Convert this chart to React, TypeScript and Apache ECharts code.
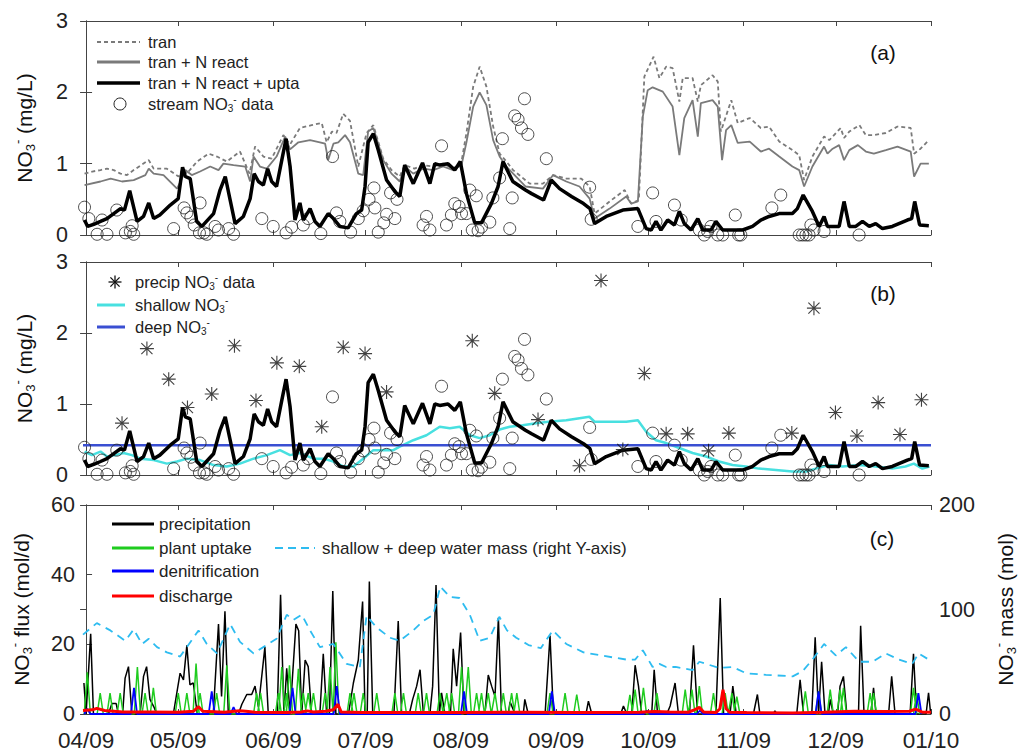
import React, { useEffect, useRef } from "react";
import * as echarts from "echarts";

const FONT = "Liberation Sans, Arial, Helvetica, sans-serif";

// x axis: days since 2009-04-01
const MONTH_DAYS = [0, 30, 61, 91, 122, 153, 183, 214, 244, 275];
const MONTH_LABELS = ["04/09", "05/09", "06/09", "07/09", "08/09", "09/09", "10/09", "11/09", "12/09", "01/10"];

// panel (a) model lines [day, mg/L]
const TRAN = [[-0.5,0.86],[2,0.89],[4.7,0.91],[6.8,0.93],[9,0.91],[11.2,0.86],[13.3,0.84],[15.5,0.91],[20.4,1.05],[22,0.93],[26.3,0.93],[30.1,0.82],[31.5,0.93],[32.8,0.86],[36.1,1.03],[39.9,1.14],[42.6,1.1],[45.8,1.03],[50.1,1.17],[53.2,0.86],[55,1.24],[57.7,1.1],[60.4,1.07],[64.2,1.4],[66.4,1.27],[69.6,1.5],[73.4,1.54],[76.7,1.57],[78.3,1.3],[80,1.45],[81.5,1.43],[83.7,1.7],[85.9,1.6],[88.6,0.96],[91.3,1.43],[93.5,1.54],[96.7,1.07],[99.4,0.91],[102.1,0.82],[103.7,0.98],[106.9,0.93],[109.7,0.98],[113,0.96],[116.2,1.0],[119.5,0.93],[122.2,1.03],[123.8,1.43],[126,2.08],[128.1,2.36],[130.3,2.08],[132.5,1.52],[134.6,1.14],[136.8,1.03],[139,0.91],[144.4,0.72],[148.7,0.72],[152,0.84],[156.3,0.79],[161.2,0.79],[163.9,0.68],[165.5,0.3],[170.4,0.47],[175.3,0.63],[177.4,0.44],[179.9,0.49],[181.7,2.22],[184.7,2.5],[186.6,2.2],[188.8,2.36],[190.9,2.34],[193.1,1.87],[194.2,2.2],[197.4,2.2],[199.1,1.87],[200.1,2.1],[203.9,2.24],[205.6,2.15],[206.6,1.45],[210,1.89],[212.1,1.57],[216,1.64],[219.6,1.5],[222.3,1.52],[225.6,1.31],[229.9,1.19],[232.1,1.12],[233.7,0.77],[236.4,1.1],[240.2,1.38],[241.9,1.33],[245.6,1.5],[246.7,1.36],[248.4,1.45],[251.7,1.54],[253.8,1.4],[256.4,1.4],[260.3,1.43],[264.1,1.52],[268.4,1.5],[269.5,1.14],[271.6,1.21],[274.3,1.33]];

const TRAN_REACT = [[-0.5,0.70],[4.7,0.75],[8,0.79],[11.7,0.75],[15.5,0.77],[19.3,0.84],[20.4,0.93],[22,0.86],[25.2,0.84],[29.6,0.65],[31.2,0.79],[32.3,0.91],[34.4,0.84],[37.1,0.89],[40.4,0.96],[43.1,0.91],[44.7,1.0],[48,0.98],[51.8,0.96],[53.4,0.75],[54.5,1.1],[56.6,0.96],[58.8,0.93],[62,1.1],[64.8,1.38],[66.4,1.2],[69.1,1.3],[72.9,1.33],[76.1,1.3],[77.8,1.28],[78.8,1.05],[80.5,1.28],[82.1,1.3],[84.3,1.4],[85.9,1.3],[88.6,0.86],[90.2,0.84],[91.8,1.45],[93.5,1.5],[96.7,1.05],[99.4,0.86],[102.1,0.75],[103.7,0.96],[106.5,0.86],[109.7,0.93],[113,0.91],[116.2,0.96],[119.5,0.91],[122.2,0.98],[123.8,1.3],[126,1.8],[128.1,2.0],[130.3,1.82],[132.5,1.33],[134.6,1.1],[136.8,0.96],[139,0.86],[143,0.68],[148.7,0.65],[152,0.84],[156.3,0.75],[160.6,0.68],[163.9,0.51],[165.5,0.23],[170.4,0.37],[175.8,0.54],[177.4,0.44],[179.6,0.47],[181.2,1.66],[182.8,2.03],[184.4,2.07],[187.7,2.01],[190.9,1.8],[193.1,1.12],[194.7,1.64],[197.4,1.89],[199.1,1.38],[200.1,1.85],[203.9,1.89],[205.6,1.8],[207,1.05],[208.3,1.47],[210,1.54],[212.1,1.29],[216,1.31],[219.6,1.17],[222.3,1.21],[225.6,1.1],[229.9,0.96],[232.1,0.91],[233.7,0.68],[236.4,0.96],[240.2,1.24],[241.3,1.14],[243,1.21],[245.1,1.26],[246.7,1.05],[248.4,1.19],[251.2,1.26],[253.8,1.17],[256.4,1.14],[260.3,1.19],[264.1,1.24],[268.4,1.17],[269.5,0.82],[271.6,1.0],[274.3,1.0]];

const TRAN_REACT_UPTA = [[-0.5,0.21],[0.5,0.12],[2.5,0.15],[4.7,0.19],[6.8,0.23],[9,0.3],[11.2,0.37],[12.5,0.35],[14.2,0.62],[16.6,0.19],[18.7,0.26],[20.4,0.45],[22,0.23],[24,0.28],[27.4,0.42],[30,0.51],[31.4,0.95],[32.3,0.82],[33.9,0.79],[36,0.19],[37.7,0.12],[41.5,0.3],[43.6,0.63],[45.3,0.82],[46.9,0.49],[48.5,0.16],[51.2,0.26],[53.4,0.51],[54.7,0.86],[56.1,0.75],[57.7,0.7],[59.1,0.93],[60.4,0.75],[62,0.68],[63.7,1.05],[65.1,1.35],[66.4,0.96],[68,0.21],[69.6,0.45],[70.7,0.21],[72.9,0.37],[74.5,0.19],[76.1,0.12],[78.8,0.3],[80.5,0.23],[82.6,0.12],[85.3,0.1],[88,0.3],[89.7,0.35],[90.8,0.68],[91.8,1.3],[93.5,1.42],[95.1,1.19],[97.8,0.77],[100.5,0.61],[102.1,0.54],[103.7,0.98],[106.5,0.72],[109.5,1.01],[111.9,0.72],[113.5,1.0],[115.1,0.98],[117.8,1.0],[120,0.91],[121.8,1.03],[123.8,0.58],[126.5,0.17],[128.7,0.17],[131.9,0.44],[134.1,0.68],[135.7,1.03],[138.9,0.75],[143,0.63],[145,0.58],[148.9,0.49],[151.4,0.77],[154.1,0.65],[158,0.54],[161.9,0.44],[164,0.37],[165.5,0.16],[169.3,0.26],[174.7,0.35],[179.6,0.37],[182.3,0.09],[183.9,0.07],[185.5,0.19],[187.1,0.07],[189.3,0.21],[191.5,0.14],[193.1,0.33],[194.7,0.16],[196.9,0.07],[199.1,0.23],[200.7,0.07],[203.4,0.07],[205,0.19],[207.2,0.07],[210.4,0.07],[213.7,0.07],[216.9,0.12],[219.6,0.21],[222.3,0.26],[225.6,0.3],[229.9,0.3],[231.5,0.37],[233.4,0.56],[236.4,0.33],[238.6,0.12],[240.2,0.26],[241.3,0.12],[245.1,0.12],[246.7,0.47],[248.4,0.12],[250.5,0.12],[252.7,0.19],[254.9,0.12],[257,0.16],[259.2,0.09],[262.4,0.12],[267.3,0.21],[268.7,0.23],[269.7,0.47],[271.3,0.14],[274.3,0.13]];

// observed stream NO3- [day, mg/L]
const STREAM_OBS = [[-0.5,0.39],[0.9,0.23],[3.6,0.01],[5.2,0.21],[6.8,0.01],[10,0.35],[12.8,0.03],[14.4,0.05],[15,0.13],[15.5,0.01],[28.5,0.09],[31.9,0.38],[32.8,0.31],[34.1,0.25],[35.2,0.14],[36.9,0.03],[37.1,0.45],[38.4,0.03],[39.3,0.01],[42,0.12],[43.1,0.07],[46.4,0.09],[48,0.01],[57.2,0.23],[60.9,0.12],[65.1,0.03],[66.9,0.11],[70.7,0.14],[72.3,0.23],[76.4,0.02],[80.2,1.10],[81.5,0.31],[82.6,0.19],[86.1,0.04],[88.6,0.23],[90.2,0.34],[92.1,0.50],[93.7,0.66],[94,0.38],[95.1,0.04],[96.9,0.17],[97.8,0.29],[99.1,0.59],[100.5,0.23],[101.2,0.50],[109.7,0.14],[110.8,0.26],[111.9,0.07],[115.7,1.25],[117.3,0.14],[118.9,0.28],[120,0.44],[121.4,0.40],[122.2,0.30],[123.8,0.30],[124.9,0.63],[125.7,0.07],[127,0.55],[127.6,0.06],[128.7,0.11],[131.4,0.18],[132.4,0.52],[134.6,0.80],[135.5,1.35],[137.9,0.09],[138.7,0.52],[139.5,1.67],[140.6,1.62],[141.7,1.50],[142.7,1.91],[143.8,1.41],[149.8,1.07],[163.9,0.67],[164.4,0.22],[179.6,0.12],[184.4,0.59],[185.5,0.19],[191.5,0.42],[193.7,0.21],[199.6,0.07],[201.2,0.0],[202.3,0.05],[203.4,0.12],[205.6,0.0],[207.2,0.0],[211.3,0.28],[212.4,0.0],[213.1,0.0],[223.2,0.38],[226.1,0.56],[232.1,0.0],[233.2,0.0],[234.3,0.0],[235.3,0.0],[235.9,0.14],[236.9,0.07],[240.2,0.05],[251.6,0.0]];

// panel (b)
const PRECIP_OBS = [[11.7,0.73],[19.8,1.78],[26.9,1.35],[33,0.95],[40.9,1.14],[48.3,1.82],[55.3,1.05],[62.1,1.58],[69.4,1.53],[76.7,0.68],[83.7,1.80],[90.8,1.71],[97.8,1.17],[125.7,1.89],[133,1.15],[147.1,0.78],[160.6,0.13],[167.6,2.74],[174.7,0.36],[181.7,1.43],[188.8,0.58],[195.8,0.58],[202.6,0.34],[209.2,0.59],[229.7,0.59],[236.9,2.35],[243.9,0.88],[250.9,0.55],[257.8,1.02],[264.9,0.57],[271.9,1.06]];

const SHALLOW = [[-0.5,0.33],[1.9,0.28],[4.7,0.33],[6.8,0.26],[9.5,0.28],[12.2,0.31],[14.9,0.28],[17.7,0.23],[22,0.21],[26.3,0.16],[29.6,0.19],[32.8,0.23],[37.1,0.21],[41.5,0.14],[45.8,0.12],[50.1,0.16],[54.5,0.23],[58.8,0.28],[63.1,0.35],[66.4,0.28],[69.6,0.31],[74,0.23],[77.2,0.23],[80.5,0.19],[83.7,0.12],[87,0.12],[90.2,0.23],[93.5,0.35],[96.7,0.35],[100,0.35],[102.1,0.40],[106.5,0.49],[110.8,0.56],[115.1,0.68],[118.4,0.66],[121.6,0.68],[124.9,0.56],[128.1,0.52],[131.4,0.56],[134.6,0.64],[137.9,0.68],[142.1,0.70],[146.5,0.73],[150.5,0.75],[156.3,0.77],[160.6,0.80],[163.8,0.82],[165.5,0.75],[170.4,0.75],[175.8,0.75],[179.6,0.77],[182.3,0.61],[185.5,0.49],[188.8,0.45],[193.1,0.38],[197.4,0.31],[201.8,0.26],[206,0.19],[210.4,0.14],[214.7,0.12],[219,0.09],[224.5,0.07],[229.9,0.05],[234.3,0.05],[237.5,0.09],[241.8,0.14],[246.2,0.12],[251.6,0.14],[257,0.12],[262.4,0.09],[266.7,0.12],[269.4,0.16],[272.2,0.09],[274.5,0.12]];

const DEEP_LEVEL = [0.42];

// panel (c) fluxes [day, mol/d]
const PRECIP_FLUX = [[-0.7,8.9],[0,0],[1.5,23],[2.4,0],[7.3,0],[8.4,3],[9.8,3],[10.5,0],[11.9,0],[12.7,10.3],[13.8,13.6],[14.9,0],[17.6,0],[18.7,10.8],[19.7,13.6],[20.8,4.2],[22.1,2],[23,0],[28.4,0],[30.6,11.7],[31.7,9.8],[32.8,19.7],[33.8,8.4],[34.9,8.9],[36.2,0],[41.4,0],[43.1,25.8],[44.1,5],[45.2,29.5],[46.3,0],[49.6,0],[50.7,2.8],[52.3,5.6],[53.9,5.6],[55,8],[56.1,2],[58.2,19.2],[59.3,0],[62.2,0],[63.3,34.2],[64.4,0],[65.3,13.1],[66.4,0],[68.3,25.8],[69.2,23.9],[70.2,0],[71.3,15.5],[72.3,13.6],[73.4,0],[76.1,0],[77.2,17.3],[78.3,0],[79.2,0],[80.3,35.3],[81.3,0],[85.4,0],[87,8.9],[88.6,15.5],[90,32.3],[90.8,0],[91.5,0],[92.2,38],[93.3,0],[100.2,0],[101.6,26.7],[102.7,0],[105.2,0],[106.3,4.2],[107.6,8],[108.7,12.7],[109.8,0],[111.9,0],[112.8,8],[113.9,37],[115,0],[115.7,6.1],[116.8,0],[118.6,0],[119.5,18.7],[120.6,8],[121.9,23.4],[123,0],[129.8,0],[130.9,11.2],[132,8],[133.1,5],[134.2,27.6],[135.2,0],[137.4,0],[138,3.5],[139.6,0],[142.3,0],[142.8,4.2],[143.9,0],[149.4,0],[151,22.5],[152.1,0],[162.7,0],[163.5,3.7],[164.6,0],[174,0],[174.9,2.3],[176,0],[177.6,0],[178.7,14],[179.8,8],[180.8,0],[184.1,0],[184.9,12.7],[186,0],[189,0],[190.1,2.3],[191.7,8.9],[192.8,0],[196.4,0],[197.7,19.7],[199,0],[205,0],[206.4,33.3],[207.5,0],[209.6,0],[210.5,8],[211.6,0],[217.2,0],[218.5,5.6],[219.3,0],[223.7,0],[224.2,0.9],[224.8,0],[231.3,0],[232.4,9.8],[233.5,0],[236.2,0],[237.3,22],[238.4,0],[239.4,15],[240.5,0],[241.6,0],[242.2,4.2],[243.2,0],[244.6,0],[245.4,8],[246.5,10.8],[247.6,0],[251.4,0],[252.1,25.3],[253.2,0],[255.4,0],[256.3,7.5],[257.1,0],[261.2,0],[262.2,10.8],[263.3,0],[268.2,0],[269.3,17.3],[270.3,0],[273.4,0],[274.2,6.1],[274.9,0]];

const UPTAKE_PEAKS = [[0.4,12],[4.6,6],[7.8,6],[11.1,6],[16.7,13.5],[19.2,6],[21.9,7.5],[30,6],[32.8,6],[35.8,14.5],[37.1,6],[42.5,6],[45.8,14],[55.5,6],[56.8,6],[62.6,6],[63.7,13.5],[65.3,6],[66.2,14],[69.1,13],[70.7,6],[72.3,6],[74,6],[77.8,6],[79.4,13.5],[81.3,20.6],[85.9,6],[87.2,6],[90.2,6],[94.6,6],[100.5,6],[103.3,6],[108.1,6],[110.8,6],[115.2,6],[117.4,6],[119,6],[122.2,13.5],[124.4,13.5],[127.1,6],[128.7,6],[130.9,6],[133.1,6],[135.8,6],[138.5,6],[140.2,6],[151,6],[155.9,6],[159.7,5.6],[177,5.5],[178.7,7],[181.4,7.5],[185.8,6],[195,7],[197.2,7],[199.6,8],[204.2,6],[208,6],[210.2,6],[211.8,5],[234.1,6.5],[238.4,6.5],[242.2,7],[245.4,7],[246.5,7.5],[255.2,6],[256.3,6],[269.3,7.5],[270.3,6]];

const DENIT_PEAKS = [[0.4,1.5],[15.6,7.5],[40.9,6.5],[48,2],[67.2,7.5],[81.6,8],[123,6.5],[151.6,6.5],[182.5,1],[199.8,1],[238.4,6.5],[270.9,6]];

const DISCHARGE = [[-1,1],[2,1.2],[3.5,1.6],[6,1],[12,0.6],[20,0.6],[30,0.5],[35,0.8],[36.6,2.1],[38,0.8],[45,0.5],[50,0.9],[52,0.8],[55,0.5],[65,0.4],[70,0.6],[72,0.9],[74,0.6],[78,0.8],[80.5,1.2],[82,2.8],[83,0.6],[90,0.4],[100,0.4],[120,0.4],[140,0.5],[160,0.4],[180,0.5],[185,0.7],[190,0.6],[196,0.5],[198,1.2],[199.6,1.9],[201,0.6],[205,0.4],[206.3,1.5],[207.3,7],[208.3,1.5],[209.5,0.5],[215,0.4],[230,0.3],[240,0.5],[250,0.8],[260,0.7],[268,0.8],[270,1.4],[272,0.6],[275,0.5]];

// right axis: shallow + deep water NO3- mass [day, mol]
const WATER_MASS = [[-1,76],[3.5,87],[7.9,80],[12.8,70],[15.5,81],[18.2,67],[20.4,72],[23.1,64],[26.3,59],[30.6,55],[32.8,64],[36.6,80],[39.3,67],[42.6,58],[46.9,86],[50.1,69],[54.5,58],[57.7,64],[62,72],[65.3,95],[67.5,90],[70.2,95],[72.9,80],[76.1,64],[80.5,67],[84.8,48],[89.1,45],[91.3,94],[94.5,83],[98.9,73],[102.1,70],[106.5,80],[109.7,89],[113,95],[115.3,122],[118.4,112],[121.6,111],[124.9,95],[128.1,70],[131.4,73],[134.5,93],[137,80],[140,73],[144,66],[148,63],[151.9,80],[156.3,67],[161.9,59],[167.6,56],[176,52],[178.7,52],[181.2,61],[184.4,45],[186.6,48],[188.8,45],[191.9,45],[197.4,42],[199.6,50],[206.1,44],[210.4,45],[214.8,39],[221.3,37.5],[230,36],[233.2,41],[236.4,52],[240.2,67],[244,56],[247.3,64],[251.6,50],[256,50],[260.3,58],[264.6,52],[268.9,48],[271,58],[274.3,52]];

const spikeLine = (peaks: number[][]) =>
  peaks.flatMap(([d, v]) => [[d - 1, 0], [d, v], [d + 1, 0]]);

const ASTERISK =
  "path://M9.2 0H10.8V20H9.2Z M0 9.2H20V10.8H0Z M1.5 2.6L2.6 1.5L18.5 17.4L17.4 18.5Z M17.4 1.5L18.5 2.6L2.6 18.5L1.5 17.4Z";

const AX = "#444";
const richSS = {
  sub: { fontSize: 13, lineHeight: 12, verticalAlign: "bottom", fontFamily: FONT, color: "#111" },
  sup: { fontSize: 13, lineHeight: 12, verticalAlign: "top", fontFamily: FONT, color: "#111" },
};
const richLeg = {
  sub: { fontSize: 10, lineHeight: 9, verticalAlign: "bottom", fontFamily: FONT, color: "#222" },
  sup: { fontSize: 10, lineHeight: 9, verticalAlign: "top", fontFamily: FONT, color: "#222" },
};

const GRIDS = [
  { left: 83, top: 21, width: 848, height: 214 },
  { left: 83, top: 262, width: 848, height: 213 },
  { left: 83, top: 505, width: 848, height: 213 },
];

function xAxes() {
  const out: any[] = [];
  for (let g = 0; g < 3; g++) {
    for (const pos of ["bottom", "top"]) {
      out.push({
        type: "value",
        gridIndex: g,
        position: pos,
        min: -1,
        max: 275,
        axisLine: { show: true, onZero: false, lineStyle: { color: AX, width: 1 } },
        axisTick: { show: true, inside: true, length: 5, customValues: MONTH_DAYS, lineStyle: { color: AX } },
        axisLabel: {
          show: g === 2 && pos === "bottom",
          customValues: MONTH_DAYS,
          formatter: (v: number) => MONTH_LABELS[MONTH_DAYS.indexOf(v)] ?? "",
          fontFamily: FONT,
          fontSize: 22.5,
          color: "#222",
          margin: 15,
        },
        splitLine: { show: false },
      });
    }
  }
  return out;
}

function yAxis(grid: number, pos: string, max: number, interval: number, labels: boolean, margin: number, name?: string, nameGap?: number) {
  return {
    type: "value",
    gridIndex: grid,
    position: pos,
    min: 0,
    max,
    interval,
    name: name ?? "",
    nameLocation: "middle",
    nameRotate: 90,
    nameGap: nameGap ?? 40,
    nameTextStyle: { fontFamily: FONT, fontSize: 21, lineHeight: 26, color: "#111", rich: richSS },
    axisLine: { show: true, lineStyle: { color: AX, width: 1 } },
    axisTick: { show: true, inside: true, length: 6, lineStyle: { color: AX } },
    axisLabel: { show: labels, fontFamily: FONT, fontSize: 21.5, color: "#222", margin },
    splitLine: { show: false },
  };
}

function legendLine(x1: number, x2: number, y: number, color: string, width: number, dash?: number[]) {
  return {
    type: "line",
    shape: { x1, y1: y, x2, y2: y },
    style: { stroke: color, lineWidth: width, lineDash: dash },
    z: 100,
  };
}
function legendText(x: number, y: number, text: string, size: number) {
  return {
    type: "text",
    x,
    y,
    style: { text, fontFamily: FONT, fontSize: size, lineHeight: 19, fill: "#222", verticalAlign: "middle", rich: richLeg },
    z: 100,
  };
}
function panelTag(x: number, y: number, text: string) {
  return {
    type: "text",
    x,
    y,
    style: { text, fontFamily: FONT, fontSize: 21, fill: "#111", align: "center", verticalAlign: "middle" },
    z: 100,
  };
}
function asteriskIcon(cx: number, cy: number, r: number) {
  const parts: any[] = [];
  for (let k = 0; k < 4; k++) {
    const a = (k * Math.PI) / 4;
    parts.push({
      type: "line",
      shape: { x1: cx - r * Math.cos(a), y1: cy - r * Math.sin(a), x2: cx + r * Math.cos(a), y2: cy + r * Math.sin(a) },
      style: { stroke: "#111", lineWidth: 1.3 },
      z: 100,
    });
  }
  return parts;
}

const GRAY = "#7a7a7a";
const CYAN = "#48e0e0";
const DEEPBLUE = "#3a4fd2";

function buildOption() {
  const line = (name: string, data: any, xi: number, yi: number, color: string, width: number, extra: any = {}) => ({
    name,
    type: "line",
    xAxisIndex: xi,
    yAxisIndex: yi,
    data,
    showSymbol: false,
    symbol: "none",
    lineStyle: { color, width, ...(extra.lineStyle || {}) },
    z: extra.z ?? 2,
  });
  const circles = (xi: number, yi: number) => ({
    name: "stream NO3- data",
    type: "scatter",
    xAxisIndex: xi,
    yAxisIndex: yi,
    data: STREAM_OBS,
    symbol: "circle",
    symbolSize: 12,
    itemStyle: { color: "rgba(0,0,0,0)", borderColor: "#222", borderWidth: 1 },
    z: 3,
  });

  return {
    animation: false,
    backgroundColor: "#fff",
    grid: GRIDS,
    xAxis: xAxes(),
    yAxis: [
      yAxis(0, "left", 3, 1, true, 15, "NO{sub|3}{sup|-} (mg/L)", 46),
      yAxis(0, "right", 3, 1, false, 8),
      yAxis(1, "left", 3, 1, true, 15, "NO{sub|3}{sup|-} (mg/L)", 46),
      yAxis(1, "right", 3, 1, false, 8),
      yAxis(2, "left", 60, 20, true, 8, "NO{sub|3}{sup|-} flux (mol/d)", 49),
      yAxis(2, "right", 200, 100, true, 8, "NO{sub|3}{sup|-} mass (mol)", 61),
    ],
    series: [
      // (a)
      line("tran", TRAN, 0, 0, GRAY, 1.8, { lineStyle: { type: [4, 3] } }),
      line("tran + N react", TRAN_REACT, 0, 0, GRAY, 1.8),
      line("tran + N react + upta", TRAN_REACT_UPTA, 0, 0, "#000", 3.5, { z: 4 }),
      circles(0, 0),
      // (b)
      line("shallow NO3-", SHALLOW, 2, 2, CYAN, 2.5),
      line("deep NO3-", [[-1, DEEP_LEVEL[0]], [275, DEEP_LEVEL[0]]], 2, 2, DEEPBLUE, 2.5),
      line("model", TRAN_REACT_UPTA, 2, 2, "#000", 3.5, { z: 4 }),
      circles(2, 2),
      {
        name: "precip NO3- data",
        type: "scatter",
        xAxisIndex: 2,
        yAxisIndex: 2,
        data: PRECIP_OBS,
        symbol: ASTERISK,
        symbolSize: 14,
        itemStyle: { color: "#111" },
        z: 5,
      },
      // (c)
      line("precipitation", PRECIP_FLUX, 4, 4, "#000", 1.5),
      line("plant uptake", spikeLine(UPTAKE_PEAKS), 4, 4, "#1fcc1f", 1.5),
      line("denitrification", spikeLine(DENIT_PEAKS), 4, 4, "#0000ff", 1.8),
      line("discharge", DISCHARGE, 4, 4, "#ff0000", 3, { z: 4 }),
      line("shallow + deep water mass (right Y-axis)", WATER_MASS, 4, 5, "#2ebcf0", 1.8, { lineStyle: { type: [8, 6] } }),
    ],
    graphic: [
      // legend (a)
      legendLine(97, 140, 42, GRAY, 2, [4, 3]),
      legendText(148, 42, "tran", 16.5),
      legendLine(97, 140, 62, GRAY, 3),
      legendText(148, 62, "tran + N react", 16.5),
      legendLine(97, 140, 83, "#000", 3.5),
      legendText(148, 83, "tran + N react + upta", 16.5),
      { type: "circle", shape: { cx: 120, cy: 104, r: 6 }, style: { fill: "none", stroke: "#222", lineWidth: 1 }, z: 100 },
      legendText(148, 104, "stream NO{sub|3}{sup|-} data", 16.5),
      panelTag(883, 52, "(a)"),
      // legend (b)
      ...asteriskIcon(115, 282, 6.5),
      legendText(135, 282, "precip NO{sub|3}{sup|-} data", 16.5),
      legendLine(97, 125, 305, CYAN, 3),
      legendText(135, 305, "shallow NO{sub|3}{sup|-}", 16.5),
      legendLine(97, 125, 327, DEEPBLUE, 3),
      legendText(135, 327, "deep NO{sub|3}{sup|-}", 16.5),
      panelTag(883, 293, "(b)"),
      // legend (c)
      legendLine(112, 154, 524, "#000", 3),
      legendText(159, 524, "precipitation", 17),
      legendLine(112, 154, 548, "#1fcc1f", 3),
      legendText(159, 548, "plant uptake", 17),
      legendLine(112, 154, 571, "#0000ff", 3),
      legendText(159, 571, "denitrification", 17),
      legendLine(112, 154, 596, "#ff0000", 3),
      legendText(159, 596, "discharge", 17),
      legendLine(275, 315, 548, "#2ebcf0", 2, [8, 5]),
      legendText(322, 548, "shallow + deep water mass (right Y-axis)", 17),
      panelTag(882, 538, "(c)"),
    ],
  };
}

export default function App() {
  const ref = useRef<HTMLDivElement>(null);
  useEffect(() => {
    if (!ref.current) return;
    const chart = echarts.init(ref.current, null, { renderer: "svg" });
    chart.setOption(buildOption() as any);
    return () => chart.dispose();
  }, []);
  return (
    <div
      ref={ref}
      style={{ position: "fixed", left: 0, top: 0, width: 1032, height: 752, background: "#fff" }}
    />
  );
}
